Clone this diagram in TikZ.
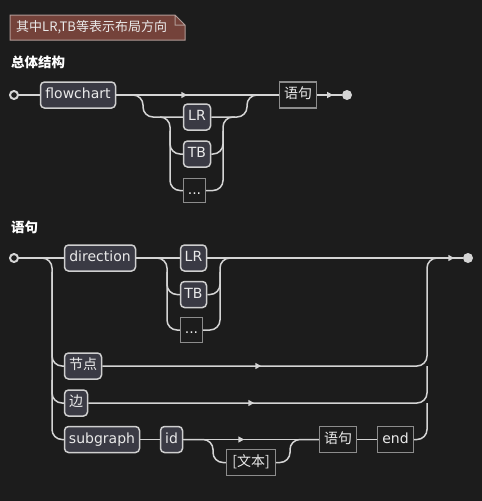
\documentclass[tikz,border=0pt]{standalone}
\usepackage{fontspec}
\setmainfont{DejaVu Sans}
\newfontfamily\cjk{Noto Sans CJK SC}
\usetikzlibrary{arrows.meta,decorations.markings}
\definecolor{board}{HTML}{1C1C1C}
\definecolor{rail}{HTML}{D4D4D4}
\definecolor{tokfill}{HTML}{3A3A44}
\definecolor{tokline}{HTML}{CFCFCF}
\definecolor{refline}{HTML}{8C8C8C}
\definecolor{notefill}{HTML}{74423A}
\definecolor{noteline}{HTML}{B09A96}
\definecolor{txt}{HTML}{EAEAEA}
\tikzset{
  track/.style={draw=rail,line width=1.5pt},
  curvetrack/.style={track,rounded corners=10pt},
  term/.style={draw=tokline,fill=tokfill,line width=1.5pt,rounded corners=4pt,
               text=txt,minimum height=26pt,inner sep=0pt,
               text height=10.5pt,text depth=3.5pt,font=\fontsize{14}{16}\selectfont},
  nonterm/.style={draw=refline,fill=board,line width=1.2pt,
                  text=txt,minimum height=26pt,inner sep=0pt,
                  text height=10.5pt,text depth=3.5pt,font=\fontsize{14}{16}\selectfont},
  startdot/.style={circle,draw=rail,fill=board,line width=2pt,
                   minimum size=8pt,inner sep=0pt},
  enddot/.style={circle,fill=rail,minimum size=10pt,inner sep=0pt},
  railarr/.style={postaction={decorate,decoration={markings,
                  mark=at position #1 with {\arrow{Triangle[length=6pt,width=6pt]}}}}},
  heading/.style={font=\cjk\bfseries\fontsize{13.5}{16}\selectfont,text=white,
                  inner sep=0pt,anchor=west}
}

\begin{document}
\begin{tikzpicture}[x=1pt,y=-1pt]
  \fill[board] (0,0) rectangle (482,501);
  \useasboundingbox (0,0) rectangle (482,501);

  % note
  \fill[notefill] (10,15) -- (175,15) -- (185,25) -- (185,40) -- (10,40) -- cycle;
  \draw[noteline,line width=1pt] (10,15) -- (175,15) -- (185,25) -- (185,40) -- (10,40) -- cycle
    (175,15) -- (175,25) -- (185,25);
  \node[anchor=west,inner sep=0pt,text=txt,font=\cjk\fontsize{13}{15}\selectfont] (note) at (16,27.5)
    {其中LR,TB等表示布局方向};

  % overall structure
  \node[heading] (h1) at (11,62) {总体结构};
  \node[startdot] (s1) at (14,95) {};
  \node[term,minimum width=75pt] (fc) at (78,95) {flowchart};
  \node[term,minimum width=27pt] (lr1) at (197,117) {LR};
  \node[term,minimum width=27pt] (tb1) at (197,154) {TB};
  \node[nonterm,minimum width=22pt,minimum height=24pt] (dd1) at (194.5,190.5) {...};
  \node[nonterm,minimum width=37pt] (yj1) at (298,95) {\cjk 语句};
  \node[enddot] (e1) at (347,95) {};

  \coordinate (k1) at (143,0);
  \coordinate (k2) at (160,0);
  \coordinate (k3) at (170,0);
  \coordinate (k4) at (247,0);
  \coordinate (k5) at (223,0);
  \coordinate (k6) at (235,0);

  \draw[track] (s1.east) -- (fc.west);
  \draw[track,railarr=71pt] (fc.east) -- (yj1.west);
  \draw[curvetrack] (fc.east) -| (k1 |- lr1.west) -- (lr1.west);
  \draw[curvetrack] (k2 |- lr1.west) -| (k3 |- dd1.west) -- (dd1.west);
  \draw[curvetrack] (k3 |- lr1.south) |- (tb1.west);
  \draw[curvetrack] (lr1.east) -| (k4 |- fc.east) -- (yj1.west);
  \draw[curvetrack] (dd1.east) -| (k5 |- lr1.east) -- (k6 |- lr1.east);
  \draw[curvetrack] (tb1.east) -| (k5 |- lr1.south);
  \draw[track,railarr=16pt] (yj1.east) -- (e1.west);

  % statement
  \node[heading] (h2) at (11,227) {语句};
  \node[startdot] (s2) at (14,258) {};
  \node[term,minimum width=71pt] (dir) at (100,258) {direction};
  \node[term,minimum width=26pt] (lr2) at (193.5,258) {LR};
  \node[term,minimum width=26pt] (tb2) at (193.5,294.5) {TB};
  \node[nonterm,minimum width=22pt,minimum height=25pt] (dd2) at (191.5,330) {...};
  \node[term,minimum width=37pt] (jd) at (83,366) {\cjk 节点};
  \node[term,minimum width=23pt] (bian) at (76,403) {\cjk 边};
  \node[term,minimum width=75pt] (sg) at (102,439.5) {subgraph};
  \node[term,minimum width=22pt] (id) at (171.5,439.5) {id};
  \node[nonterm,minimum width=49pt] (wb) at (251,462.5) {\cjk [文本]};
  \node[nonterm,minimum width=37pt] (yj2) at (338,439.5) {\cjk 语句};
  \node[nonterm,minimum width=36pt] (fin) at (395.5,439.5) {end};
  \node[enddot] (e2) at (468,258) {};

  \coordinate (m1) at (52,0);
  \coordinate (m2) at (167,0);
  \coordinate (m3) at (220,0);
  \coordinate (m4) at (232,0);
  \coordinate (m5) at (427,0);
  \coordinate (m6) at (440,0);
  \coordinate (m7) at (213,0);
  \coordinate (m8) at (290,0);

  \draw[track] (s2.east) -- (dir.west);
  \draw[curvetrack] (s2.east) -| (m1 |- sg.west) -- (sg.west);
  \draw[curvetrack] (m1 |- dir.south) |- (jd.west);
  \draw[curvetrack] (m1 |- jd.south) |- (bian.west);
  \draw[track] (dir.east) -- (lr2.west);
  \draw[curvetrack] (dir.east) -| (m2 |- dd2.west) -- (dd2.west);
  \draw[curvetrack] (m2 |- lr2.south) |- (tb2.west);
  \draw[track,railarr=247pt] (lr2.east) -- (e2.west);
  \draw[curvetrack] (dd2.east) -| (m3 |- lr2.east) -- (m4 |- lr2.east);
  \draw[curvetrack] (tb2.east) -| (m3 |- lr2.south);
  \draw[curvetrack,railarr=159pt] (jd.east) -| (m5 |- lr2.east) -- (m6 |- lr2.east);
  \draw[curvetrack,railarr=166pt] (bian.east) -| (m5 |- jd.east);
  \draw[curvetrack] (fin.east) -| (m5 |- bian.east);
  \draw[track] (sg.east) -- (id.west);
  \draw[track,railarr=61pt] (id.east) -- (yj2.west);
  \draw[curvetrack] (id.east) -| (m7 |- wb.west) -- (wb.west);
  \draw[curvetrack] (wb.east) -| (m8 |- id.east) -- (yj2.west);
  \draw[track] (yj2.east) -- (fin.west);
\end{tikzpicture}
\end{document}
